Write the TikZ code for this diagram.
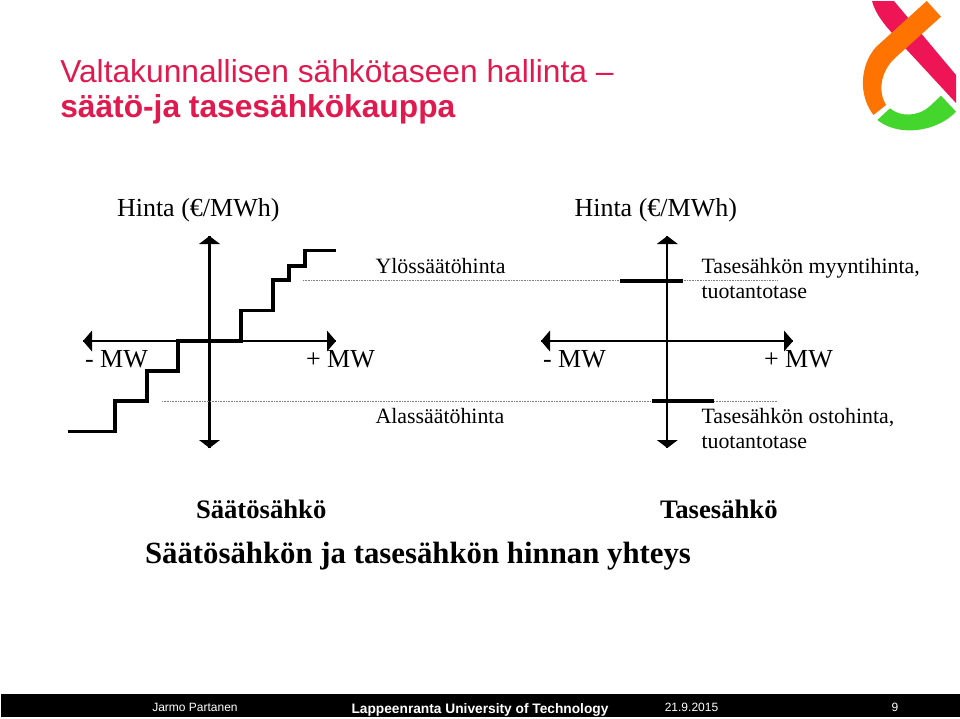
\documentclass[tikz,border=0pt]{standalone}
\usepackage{fontspec}
\setmainfont{Liberation Serif}
\setsansfont{Liberation Sans}
\definecolor{titlered}{HTML}{E01A4F}
\definecolor{logored}{HTML}{EE1556}
\definecolor{logoorange}{HTML}{FF7300}
\definecolor{logogreen}{HTML}{44D62C}
\tikzset{
  axisline/.style={line width=1.6pt,black},
  tipshape/.style={fill=black,draw=none},
  stepline/.style={line width=2.8pt,black,line cap=butt,line join=miter},
  dotline/.style={line width=0.75pt,gray,dash pattern=on 0.6pt off 0.6pt},
  lbl/.style={anchor=base west,inner sep=0pt,outer sep=0pt,black,font=\fontsize{16.4pt}{16.4pt}\selectfont},
  big/.style={anchor=base west,inner sep=0pt,outer sep=0pt,black,font=\fontsize{19.5pt}{19.5pt}\selectfont},
  heavy/.style={anchor=base west,inner sep=0pt,outer sep=0pt,black,font=\fontsize{20pt}{20pt}\selectfont\bfseries},
  heavier/.style={anchor=base west,inner sep=0pt,outer sep=0pt,black,font=\fontsize{23.1pt}{23.1pt}\selectfont\bfseries},
  foot/.style={anchor=base,inner sep=0pt,outer sep=0pt,white,font=\sffamily\fontsize{9pt}{9pt}\selectfont},
}
\newcommand{\axes}[3]{% x vertical, x left, x right
  \coordinate (t) at (#1,236); \coordinate (b) at (#1,448);
  \coordinate (l) at (#2,341); \coordinate (r) at (#3,341);
  \draw[axisline] (t) -- (b);
  \draw[axisline] (l) -- (r);
  \fill[tipshape] (t) -- +(10.5,8) -- +(-10.5,8) -- cycle;
  \fill[tipshape] (b) -- +(10.5,-8) -- +(-10.5,-8) -- cycle;
  \fill[tipshape] (l) -- +(9,10.5) -- +(9,-10.5) -- cycle;
  \fill[tipshape] (r) -- +(-9,10.5) -- +(-9,-10.5) -- cycle;
}
\begin{document}
\begin{tikzpicture}[x=0.75pt,y=-0.75pt]
\useasboundingbox (0,0) rectangle (960,718);
\fill[white] (0,0) rectangle (960,718);
% logo
\fill[logored] (872,1) -- (894,1) -- (956,75) -- (956,103) -- (907,50) -- (892,33) .. controls (882,22) and (875,12) .. (872,1) -- cycle;
\fill[logoorange] (926.7,1) -- (941,16.7) -- (895,58) .. controls (880,72) and (878,92) .. (886,105) -- (873.5,115) .. controls (858,95) and (860,65) .. (876,47) -- cycle;
\fill[logogreen] (877.3,120) -- (890,108.3) .. controls (900,117) and (918,117) .. (930,106) -- (941,95.7) -- (956,111.7) .. controls (938,131) and (900,138) .. (877.3,120) -- cycle;
% title
\node[anchor=base west,inner sep=0pt,titlered,font=\sffamily\fontsize{23.8pt}{23.8pt}\selectfont] (t1) at (60,82) {Valtakunnallisen sähkötaseen hallinta –};
\node[anchor=base west,inner sep=0pt,titlered,font=\sffamily\bfseries\fontsize{23.8pt}{23.8pt}\selectfont] (t2) at (60,117) {säätö-ja tasesähkökauppa};
% left
\axes{209.5}{83}{336}
\draw[stepline] (68,431.5) -| (115,401) -| (147,371) -| (178,341) -| (241,310.5) -| (273,280) -| (289,266) -| (305,250.5) -- (336,250.5);
\draw[dotline] (303,280.7) -- (777,280.7);
\draw[dotline] (162,401) -- (777,401);
% right
\axes{667.3}{541}{793}
\draw[stepline] (620,280.7) -- (683,280.7);
\draw[stepline] (652,401) -- (714,401);
% labels
\node[big] (h1) at (117,216.5) {Hinta (€/MWh)};
\node[big] (h2) at (574.5,216.5) {Hinta (€/MWh)};
\node[lbl] (y) at (375.5,273) {Ylössäätöhinta};
\node[lbl] (a) at (375.5,423) {Alassäätöhinta};
\node[lbl] (m1) at (701.5,273) {Tasesähkön myyntihinta,};
\node[lbl] (m2) at (701.5,298) {tuotantotase};
\node[lbl] (o1) at (701.5,423) {Tasesähkön ostohinta,};
\node[lbl] (o2) at (701.5,448) {tuotantotase};
\node[big] (a1) at (85,367) {- MW};
\node[big] (a2) at (306,367) {+ MW};
\node[big] (a3) at (543,367) {- MW};
\node[big] (a4) at (764,367) {+ MW};
\node[heavy] (s) at (196,518) {Säätösähkö};
\node[heavy] (ts) at (660,518) {Tasesähkö};
\node[heavier] (c) at (145,563) {Säätösähkön ja tasesähkön hinnan yhteys};
% footer
\fill[black] (1,694) rectangle (960,717);
\node[foot] (f1) at (195,711) {Jarmo Partanen};
\node[foot,font=\sffamily\bfseries\fontsize{10.3pt}{10.3pt}\selectfont] (f2) at (480,713) {Lappeenranta University of Technology};
\node[foot] (f3) at (691.5,711.5) {21.9.2015};
\node[foot] (f4) at (895,711.5) {9};
\end{tikzpicture}
\end{document}
